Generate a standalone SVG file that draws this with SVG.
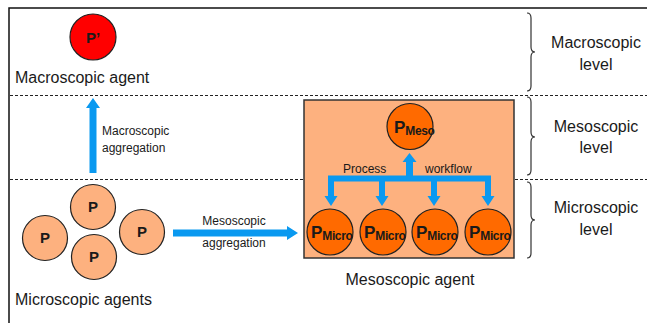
<svg xmlns="http://www.w3.org/2000/svg" width="647" height="323" viewBox="0 0 647 323">
<style>
text{font-family:"Liberation Sans",Arial,sans-serif;fill:#1a1a1a}
.big{font-size:16px}
.sm{font-size:12px}
.lbl{font-size:15px;font-weight:bold}
.pl{font-size:17px;font-weight:bold}
.sub{font-size:12px;font-weight:bold;letter-spacing:-0.4px}
.dash{stroke:#222;stroke-width:1;stroke-dasharray:3,2;fill:none}
.brace{stroke:#333;stroke-width:1.2;fill:none}
.blue{fill:#0a99f0}
.pc{fill:#fdb17f;stroke:#222;stroke-width:1.2}
.mc{fill:#ff6a00;stroke:#222;stroke-width:1.2}
</style>
<rect width="647" height="323" fill="#fff"/>
<g id="frame">
<path d="M9,323 V8 H647" stroke="#111" stroke-width="1.5" fill="none"/>
<line class="dash" x1="10" y1="95.5" x2="647" y2="95.5"/>
<line class="dash" x1="10" y1="179.5" x2="647" y2="179.5"/>
</g>
<g id="macro-agent">
<circle cx="93" cy="37" r="23" fill="#ff0000" stroke="#222" stroke-width="1.2"/>
<text class="lbl" x="93" y="43" text-anchor="middle">P’</text>
<text class="big" x="15" y="83">Macroscopic agent</text>
</g>
<g id="micro-agents">
<circle class="pc" cx="93" cy="207" r="22.5"/>
<circle class="pc" cx="45" cy="238" r="22.5"/>
<circle class="pc" cx="142" cy="232" r="22.5"/>
<circle class="pc" cx="94" cy="257" r="22.5"/>
<text class="lbl" x="93" y="212" text-anchor="middle">P</text>
<text class="lbl" x="45" y="243" text-anchor="middle">P</text>
<text class="lbl" x="142" y="237" text-anchor="middle">P</text>
<text class="lbl" x="94" y="262" text-anchor="middle">P</text>
<text class="big" x="15" y="305">Microscopic agents</text>
</g>
<g id="meso-agent">
<rect x="304" y="100" width="210" height="158" fill="#fdb17f" stroke="#333" stroke-width="1.5"/>
<circle class="mc" cx="410" cy="126.5" r="23"/>
<text class="pl" x="394" y="133">P<tspan class="sub" dy="2">Meso</tspan></text>
<circle class="mc" cx="330" cy="232" r="23"/>
<circle class="mc" cx="383" cy="232" r="23"/>
<circle class="mc" cx="435" cy="232" r="23"/>
<circle class="mc" cx="488" cy="232" r="23"/>
<text class="pl" x="311" y="238">P<tspan class="sub" dy="2">Micro</tspan></text>
<text class="pl" x="364" y="238">P<tspan class="sub" dy="2">Micro</tspan></text>
<text class="pl" x="416" y="238">P<tspan class="sub" dy="2">Micro</tspan></text>
<text class="pl" x="469" y="238">P<tspan class="sub" dy="2">Micro</tspan></text>
<text class="sm" x="343" y="173">Process</text>
<text class="sm" x="425" y="173">workflow</text>
<text class="big" x="410" y="285" text-anchor="middle">Mesoscopic agent</text>
</g>
<g id="connectors">
<path class="blue" d="M89.5,173 V108 H86 L93,98 L100,108 H96.5 V173 Z"/>
<text class="sm" x="102" y="135">Macroscopic</text>
<text class="sm" x="102" y="152">aggregation</text>
<path class="blue" d="M173,229.5 H287 V226 L298,233 L287,240 V236.5 H173 Z"/>
<text class="sm" x="234" y="225" text-anchor="middle">Mesoscopic</text>
<text class="sm" x="234" y="247" text-anchor="middle">aggregation</text>
<path class="blue" d="M328,175.5 H491 V181.5 H328 Z"/>
<path class="blue" d="M406,177 V162 H402.5 L409.5,153 L416.5,162 H413 V177 Z"/>
<path class="blue" d="M328,180 V196 H324.5 L331,206 L337.5,196 H334 V180 Z"/>
<path class="blue" d="M379,180 V196 H375.5 L382,206 L388.5,196 H385 V180 Z"/>
<path class="blue" d="M431,180 V196 H427.5 L434,206 L440.5,196 H437 V180 Z"/>
<path class="blue" d="M485,180 V196 H481.5 L488,206 L494.5,196 H491 V180 Z"/>
</g>
<g id="levels">
<path class="brace" d="M527,13 Q531,13 531,18 V47 Q531,52 535,52 Q531,52 531,57 V86 Q531,91 527,91"/>
<path class="brace" d="M527,97 Q531,97 531,102 V132 Q531,137 535,137 Q531,137 531,142 V170 Q531,175 527,175"/>
<path class="brace" d="M527,182 Q531,182 531,187 V215 Q531,220 535,220 Q531,220 531,225 V253 Q531,258 527,258"/>
<text class="big" x="596" y="48" text-anchor="middle">Macroscopic</text>
<text class="big" x="596" y="70" text-anchor="middle">level</text>
<text class="big" x="596" y="132" text-anchor="middle">Mesoscopic</text>
<text class="big" x="596" y="153" text-anchor="middle">level</text>
<text class="big" x="596" y="213" text-anchor="middle">Microscopic</text>
<text class="big" x="596" y="235" text-anchor="middle">level</text>
</g>
</svg>
